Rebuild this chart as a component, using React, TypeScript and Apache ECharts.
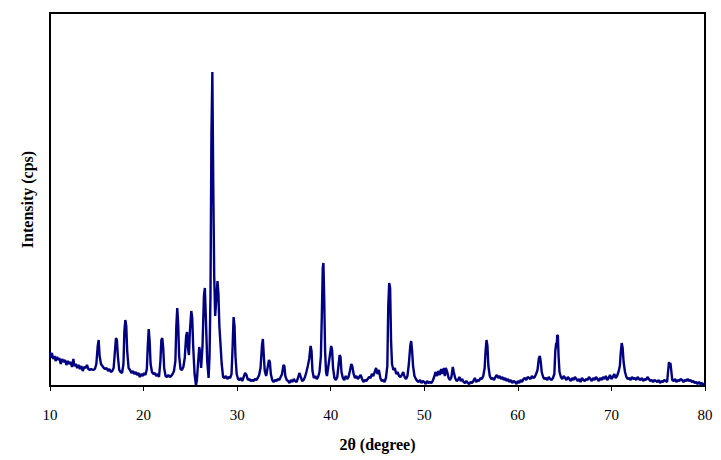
import React, { useEffect, useRef } from "react";
import * as echarts from "echarts";

// [2θ (degree), intensity (arbitrary)]
const segment10to20: [number, number][] = [
  [10.0,34],[10.1,28],[10.2,33],[10.35,27],[10.5,30],[10.6,25],[10.75,29],[10.9,26],[11.0,28],[11.15,22],
  [11.3,27],[11.45,24],[11.6,26],[11.75,21],[11.9,25],[12.05,22],[12.2,24],[12.35,19],[12.5,27],[12.6,20],
  [12.75,22],[12.9,18],[13.05,21],[13.2,17],[13.35,20],[13.5,15],[13.65,19],[13.8,18],[13.95,21],[14.1,17],
  [14.25,16],[14.4,17],[14.6,16],[14.8,17],[14.95,22],[15.1,40],[15.2,46],[15.3,30],[15.45,22],[15.6,20],
  [15.75,18],[15.9,17],[16.05,18],[16.2,15],[16.35,17],[16.5,14],[16.65,15],[16.8,18],[16.95,36],[17.05,48],
  [17.15,46],[17.25,30],[17.4,16],[17.55,14],[17.7,13],[17.85,22],[17.95,55],[18.05,66],[18.15,60],[18.25,35],
  [18.4,18],[18.55,16],[18.7,13],[18.85,15],[19.0,12],[19.15,14],[19.3,11],[19.45,13],[19.6,9],[19.75,12],
  [19.9,10],
];

const segment20to30: [number, number][] = [
  [20.05,13],[20.2,11],[20.35,17],[20.45,40],[20.55,57],[20.65,45],[20.75,22],[20.9,14],[21.05,12],[21.2,13],
  [21.35,10],[21.5,12],[21.65,9],[21.8,25],[21.9,46],[22.0,48],[22.1,38],[22.2,18],[22.35,10],[22.5,9],
  [22.65,11],[22.8,9],[22.95,10],[23.1,12],[23.25,15],[23.4,25],[23.5,60],[23.6,78],[23.7,62],[23.8,30],
  [23.95,17],[24.1,16],[24.25,19],[24.4,28],[24.55,50],[24.65,54],[24.75,38],[24.85,31],[24.95,55],[25.1,75],
  [25.2,68],[25.3,40],[25.45,12],[25.6,1],[25.7,6],[25.8,20],[25.95,39],[26.05,33],[26.15,18],[26.3,40],
  [26.45,90],[26.55,98],[26.65,70],[26.8,25],[26.95,8],[27.05,30],[27.15,90],[27.25,250],[27.35,314],[27.45,200],
  [27.55,110],[27.65,70],[27.8,90],[27.9,105],[28.0,92],[28.1,60],[28.2,45],[28.35,22],[28.5,9],[28.65,8],
  [28.8,10],[28.95,7],[29.1,9],[29.25,8],[29.4,12],[29.5,35],[29.62,69],[29.72,60],[29.82,30],[29.95,12],
];

const segment30to40: [number, number][] = [
  [30.1,7],[30.25,6],[30.4,8],[30.55,5],[30.7,9],[30.85,13],[31.0,11],[31.15,6],[31.3,7],[31.45,5],
  [31.6,6],[31.75,5],[31.9,7],[32.05,6],[32.2,8],[32.35,11],[32.5,18],[32.65,40],[32.75,47],[32.85,30],
  [32.95,15],[33.1,10],[33.25,18],[33.4,26],[33.5,24],[33.6,12],[33.75,6],[33.9,4],[34.05,6],[34.2,5],
  [34.35,7],[34.5,6],[34.65,9],[34.8,12],[34.95,21],[35.05,20],[35.15,10],[35.3,6],[35.45,5],[35.6,3],
  [35.75,6],[35.9,4],[36.05,7],[36.2,5],[36.35,4],[36.5,8],[36.65,13],[36.8,9],[36.95,5],[37.1,6],
  [37.25,9],[37.4,14],[37.55,20],[37.7,27],[37.85,40],[37.95,35],[38.05,15],[38.2,8],[38.35,10],[38.5,7],
  [38.65,9],[38.8,14],[38.95,30],[39.05,71],[39.15,118],[39.22,123],[39.3,90],[39.4,35],[39.5,14],[39.6,10],
  [39.75,20],[39.9,30],
];

const segment40to50: [number, number][] = [
  [40.05,40],[40.15,36],[40.25,18],[40.4,8],[40.55,6],[40.7,9],[40.85,22],[40.95,31],[41.05,29],[41.15,14],
  [41.3,8],[41.45,6],[41.6,10],[41.75,7],[41.9,9],[42.05,15],[42.2,22],[42.3,20],[42.45,12],[42.6,8],
  [42.75,10],[42.9,7],[43.05,9],[43.2,11],[43.35,7],[43.5,4],[43.65,6],[43.8,5],[43.95,7],[44.1,9],
  [44.25,8],[44.4,12],[44.55,10],[44.7,14],[44.85,18],[45.0,12],[45.15,16],[45.3,8],[45.45,5],[45.6,6],
  [45.75,4],[45.9,8],[46.05,20],[46.15,80],[46.25,103],[46.35,98],[46.45,45],[46.55,22],[46.7,16],[46.85,18],
  [47.0,12],[47.15,14],[47.3,10],[47.45,9],[47.6,11],[47.75,14],[47.9,9],[48.05,7],[48.2,10],[48.35,22],
  [48.5,40],[48.6,45],[48.7,35],[48.8,20],[48.95,10],[49.1,7],[49.25,5],[49.4,4],[49.55,6],[49.7,3],
  [49.85,5],
];

const segment50to60: [number, number][] = [
  [50.0,4],[50.15,2],[50.3,5],[50.45,3],[50.6,4],[50.75,3],[50.9,5],[51.05,9],[51.2,14],[51.35,10],
  [51.5,15],[51.65,11],[51.8,17],[51.95,12],[52.1,18],[52.2,10],[52.3,18],[52.45,14],[52.6,8],[52.75,6],
  [52.9,9],[53.05,19],[53.15,14],[53.3,8],[53.45,5],[53.6,6],[53.75,9],[53.9,5],[54.05,7],[54.2,4],
  [54.35,3],[54.5,5],[54.65,3],[54.8,2],[54.95,4],[55.1,3],[55.25,5],[55.4,8],[55.55,4],[55.7,6],
  [55.85,5],[56.0,8],[56.15,7],[56.3,10],[56.45,18],[56.55,35],[56.65,46],[56.75,40],[56.85,20],[57.0,10],
  [57.15,7],[57.3,8],[57.45,6],[57.6,9],[57.75,11],[57.9,8],[58.05,10],[58.2,7],[58.35,9],[58.5,6],
  [58.65,8],[58.8,5],[58.95,7],[59.1,4],[59.25,6],[59.4,3],[59.55,5],[59.7,4],[59.85,2],
];

const segment60to70: [number, number][] = [
  [60.0,5],[60.15,3],[60.3,6],[60.45,4],[60.6,7],[60.75,8],[60.9,6],[61.05,9],[61.2,8],[61.35,7],
  [61.5,10],[61.65,8],[61.8,9],[61.95,12],[62.1,16],[62.25,28],[62.35,30],[62.45,24],[62.55,14],[62.7,9],
  [62.85,7],[63.0,8],[63.15,6],[63.3,9],[63.45,7],[63.6,6],[63.75,8],[63.9,12],[64.0,35],[64.1,43],
  [64.15,38],[64.2,51],[64.28,50],[64.35,30],[64.45,14],[64.6,9],[64.75,7],[64.9,10],[65.05,8],[65.2,6],
  [65.35,9],[65.5,7],[65.65,5],[65.8,8],[65.95,6],[66.1,9],[66.25,7],[66.4,5],[66.55,7],[66.7,4],
  [66.85,8],[67.0,6],[67.15,5],[67.3,7],[67.45,6],[67.6,9],[67.75,7],[67.9,5],[68.05,8],[68.2,6],
  [68.35,9],[68.5,7],[68.65,5],[68.8,8],[68.95,6],[69.1,9],[69.25,7],[69.4,10],[69.55,6],[69.7,8],
  [69.85,11],
];

const segment70to80: [number, number][] = [
  [70.0,7],[70.15,9],[70.3,12],[70.45,8],[70.6,10],[70.75,14],[70.9,20],[71.0,34],[71.1,43],[71.2,38],
  [71.3,24],[71.45,14],[71.6,9],[71.75,7],[71.9,8],[72.05,6],[72.2,9],[72.35,7],[72.5,8],[72.65,6],
  [72.8,9],[72.95,7],[73.1,6],[73.25,8],[73.4,5],[73.55,7],[73.7,6],[73.85,9],[74.0,7],[74.15,5],
  [74.3,6],[74.45,4],[74.6,6],[74.75,5],[74.9,4],[75.05,6],[75.2,3],[75.35,5],[75.5,4],[75.65,6],
  [75.8,5],[75.95,4],[76.05,14],[76.15,24],[76.22,20],[76.3,23],[76.4,15],[76.5,6],[76.65,5],[76.8,7],
  [76.95,4],[77.1,6],[77.25,5],[77.4,7],[77.55,6],[77.7,4],[77.85,6],[78.0,5],[78.15,7],[78.3,5],
  [78.45,6],[78.6,4],[78.75,5],[78.9,3],[79.05,4],[79.2,2],[79.35,4],[79.5,2],[79.65,3],[79.8,1],
  [80.0,3],
];

const xTicks = { min: 10, max: 80, interval: 10 };
const yRange = { min: 0, max: 373 };
const xTitle = "2θ (degree)";
const yTitle = "Intensity (cps)";

const FONT = "'Liberation Serif', 'DejaVu Serif', serif";

export default function App() {
  const ref = useRef<HTMLDivElement>(null);
  useEffect(() => {
    if (!ref.current) return;
    const chart = echarts.init(ref.current, undefined, { renderer: "svg" });
    const data = [
      ...segment10to20,
      ...segment20to30,
      ...segment30to40,
      ...segment40to50,
      ...segment50to60,
      ...segment60to70,
      ...segment70to80,
    ];
    chart.setOption({
      animation: false,
      backgroundColor: "#ffffff",
      grid: {
        left: 50,
        right: 16,
        top: 13,
        bottom: 74,
        show: true,
        borderColor: "#000000",
        borderWidth: 2,
      },
      xAxis: {
        type: "value",
        min: xTicks.min,
        max: xTicks.max,
        interval: xTicks.interval,
        name: xTitle,
        nameLocation: "middle",
        nameGap: 50,
        nameTextStyle: { fontFamily: FONT, fontWeight: "bold", fontSize: 16, color: "#000" },
        axisLine: { show: true, lineStyle: { color: "#000", width: 2 } },
        axisTick: { show: true, inside: false, length: 5, lineStyle: { color: "#000", width: 1 } },
        axisLabel: { fontFamily: FONT, fontSize: 15, color: "#000", margin: 21 },
        splitLine: { show: false },
      },
      yAxis: {
        type: "value",
        min: yRange.min,
        max: yRange.max,
        name: yTitle,
        nameLocation: "middle",
        nameGap: 15,
        nameTextStyle: { fontFamily: FONT, fontWeight: "bold", fontSize: 16, color: "#000" },
        axisLine: { show: true, lineStyle: { color: "#000", width: 2 } },
        axisTick: { show: false },
        axisLabel: { show: false },
        splitLine: { show: false },
      },
      series: [
        {
          type: "line",
          data,
          showSymbol: false,
          symbol: "none",
          lineStyle: { color: "#000080", width: 2.4 },
        },
      ],
    });
    return () => chart.dispose();
  }, []);
  return (
    <div
      ref={ref}
      style={{ position: "fixed", left: 0, top: 0, width: 721, height: 460, background: "#fff" }}
    />
  );
}
